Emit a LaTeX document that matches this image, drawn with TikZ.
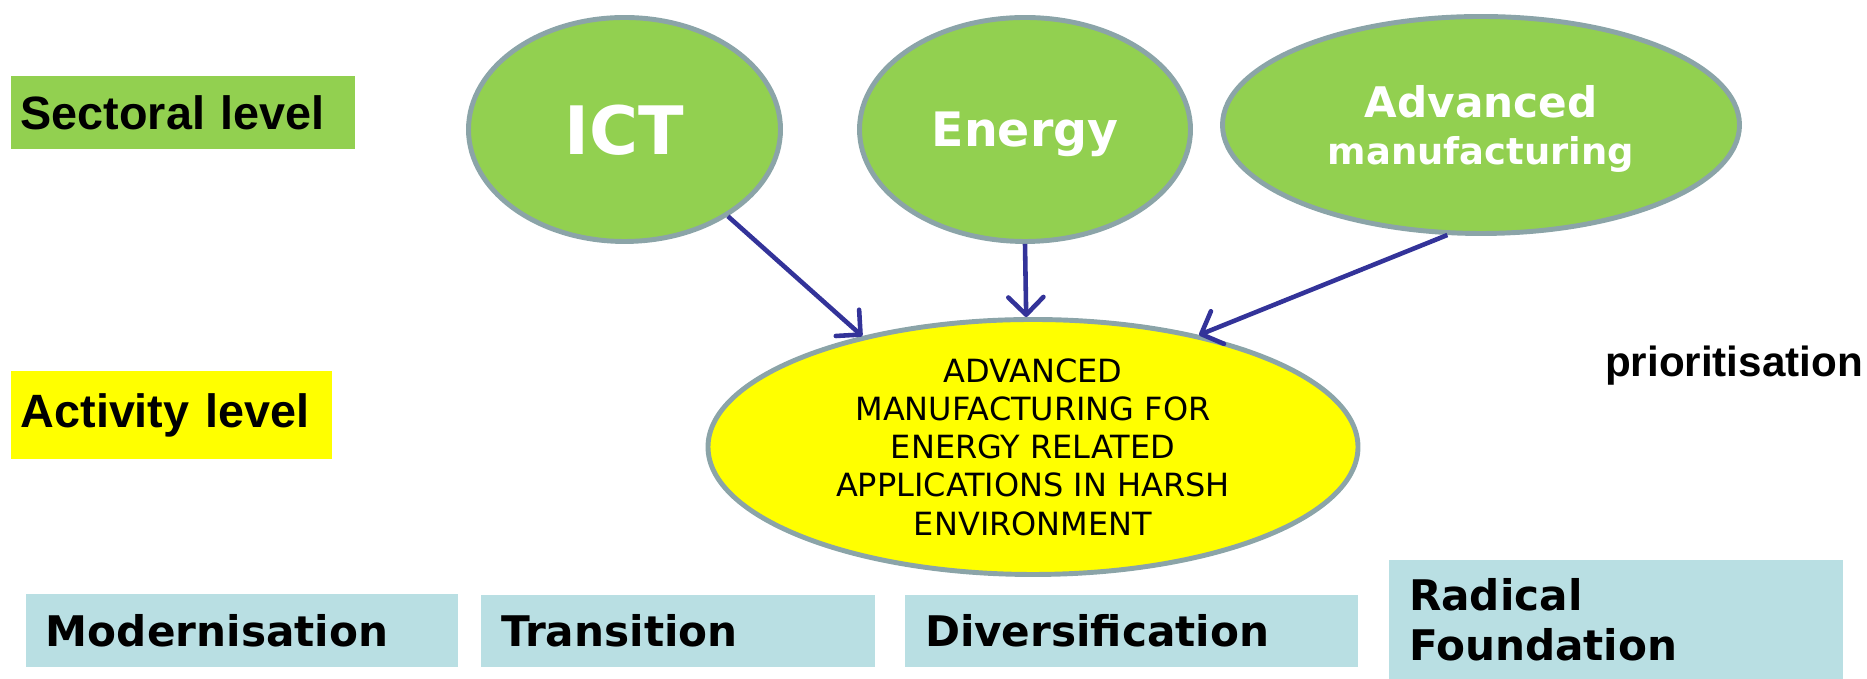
\documentclass[tikz,border=0pt]{standalone}
\usepackage{fontspec}
\setmainfont{Liberation Sans}
\newfontfamily\verdana{DejaVu Sans}
\usetikzlibrary{shapes,arrows.meta,positioning}
\definecolor{leafgreen}{HTML}{92D050}
\definecolor{brightyellow}{HTML}{FFFF00}
\definecolor{ringgray}{HTML}{8BA4A8}
\definecolor{paleteal}{HTML}{B9DFE3}
\definecolor{arrowblue}{HTML}{333399}
\tikzset{
    level/.style ={rectangle, inner xsep=0.1cm, align=left, font=\bfseries\fontsize{13.3}{16}\selectfont},
    sector/.style ={ellipse, draw=ringgray, fill=leafgreen, line width=1.4pt, inner sep=0pt, text depth=0pt, text=white, align=center},
    activity/.style ={ellipse, draw=ringgray, fill=brightyellow, line width=1.4pt, inner sep=0pt, align=center, font=\verdana\fontsize{9.1}{10.9}\selectfont},
    phase/.style = {rectangle, fill=paleteal, inner xsep=0.2cm, align=left, font=\verdana\bfseries\fontsize{12}{14.2}\selectfont},
    link/.style = {draw=arrowblue, line width=1.3pt, -{Straight Barb[length=5pt,width=10pt,round]}}
}

\begin{document}
\begin{tikzpicture}
    \useasboundingbox (0,0) rectangle (18.67,6.79);

    \node (sl) at (0.1,5.666) [level, anchor=west, fill=leafgreen, minimum height=0.73cm, text width=3.24cm] {Sectoral level};
    \node (al) at (0.1,2.64) [level, anchor=west, fill=brightyellow, minimum height=0.88cm, text width=3.01cm] {Activity level};

    \node (ict) at (6.245,5.495) [sector, minimum width=3.12cm, minimum height=2.24cm, font=\verdana\bfseries\fontsize{19}{22}\selectfont] {ICT};
    \node (en) at (10.25,5.495) [sector, minimum width=3.31cm, minimum height=2.24cm, font=\verdana\bfseries\fontsize{13.5}{16}\selectfont] {Energy};
    \node (am) at (14.81,5.54) [sector, minimum width=5.17cm, minimum height=2.17cm, font=\verdana\bfseries\fontsize{12}{13.4}\selectfont] {Advanced\\{\fontsize{10.5}{13.4}\selectfont manufacturing}};

    \node (act) at (10.33,2.32) [activity, minimum width=6.5cm, minimum height=2.55cm, inner ysep=-1pt] {ADVANCED\\MANUFACTURING FOR\\ENERGY RELATED\\APPLICATIONS IN HARSH\\ENVIRONMENT};
    \node (prio) at (17.34,3.02) [anchor=base, font=\bfseries\fontsize{12}{14}\selectfont] {prioritisation};

    \node (mod) at (2.42,0.485) [phase, minimum height=0.73cm, text width=3.92cm] {Modernisation};
    \node (tra) at (6.78,0.48) [phase, minimum height=0.72cm, text width=3.54cm] {Transition};
    \node (div) at (11.315,0.48) [phase, minimum height=0.72cm, text width=4.13cm] {Diversification};
    \node (rad) at (16.16,0.595) [phase, minimum height=1.19cm, text width=4.14cm] {Radical\\Foundation};

    \path (ict.320) edge[link] (act.147);
    \path (en.south) edge[link] (act.93.5);
    \path (am.253) edge[link] (act.34);
\end{tikzpicture}
\end{document}
